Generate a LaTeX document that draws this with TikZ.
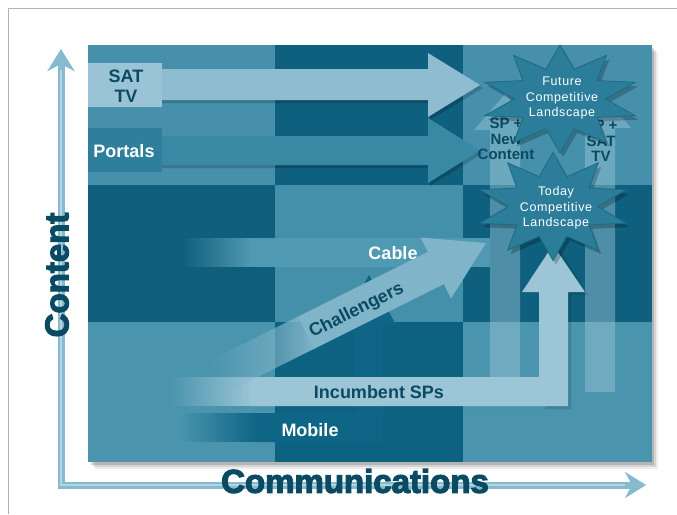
\documentclass[tikz,border=0pt]{standalone}
\usepackage{fontspec}
\setmainfont{Liberation Sans}
\newfontfamily\heavyfont{Liberation Sans}[BoldFeatures={FakeBold=3.5}]
\newfontfamily\starfont{Liberation Sans}[LetterSpace=5]
\usetikzlibrary{fadings,arrows.meta}
\tikzfading[name=fadein, left color=transparent!100, right color=transparent!0]
\definecolor{cA}{HTML}{4690AB}
\definecolor{cB}{HTML}{0F607E}
\definecolor{cC}{HTML}{4A94AE}
\definecolor{cD}{HTML}{0E5E7C}
\definecolor{cE}{HTML}{4490AA}
\definecolor{cF}{HTML}{0E6281}
\definecolor{txtdark}{HTML}{0B4A63}
\definecolor{axiscol}{HTML}{86BACE}
\definecolor{axishi}{HTML}{B4D6E2}
\definecolor{satcol}{HTML}{8EBCD0}
\definecolor{satbox}{HTML}{9AC4D5}
\definecolor{portcol}{HTML}{3989A5}
\definecolor{portbox}{HTML}{2F7F9C}
\definecolor{cablecol}{HTML}{5099B2}
\definecolor{inccol}{HTML}{9CC5D6}
\definecolor{chalcol}{HTML}{80B5C9}
\definecolor{mobcol}{HTML}{0E6585}
\definecolor{spcol}{HTML}{9CC8D8}
\definecolor{starcol}{HTML}{2B7D99}
\definecolor{staredge}{HTML}{1D6A86}
% 10-point star stretched into an ellipse: cx, cy, rx, ry
\newcommand{\mystarshape}[4]{plot[samples at={0,...,19}] ({#1+(1-0.42*mod(\x,2))*#3*cos(18*\x-90)},{#2+(1-0.42*mod(\x,2))*#4*sin(18*\x-90)}) -- cycle}
\tikzset{
  lbl/.style={font=\bfseries\fontsize{18}{19.5}\selectfont, inner sep=0pt, align=center},
  splbl/.style={font=\bfseries\fontsize{15}{15.5}\selectfont, inner sep=0pt, align=center, text=txtdark},
  startext/.style={font=\starfont\fontsize{12.5}{15.5}\selectfont, text=white, inner sep=0pt, align=center},
  axistext/.style={font=\heavyfont\bfseries\fontsize{33}{36}\selectfont, text=txtdark, inner sep=0pt},
  softshadow/.style={fill=black, opacity=0.18},
  spbar/.style={fill=spcol, opacity=0.45},
  starbody/.style={fill=starcol, draw=staredge, line width=0.8pt},
  starshadow/.style={fill=black, opacity=0.22}
}
\begin{document}
\begin{tikzpicture}[x=1pt,y=-1pt]
\fill[white] (0,0) rectangle (677,514);
\useasboundingbox (0,0) rectangle (677,514);
\draw[black!30, line width=1pt] (8,514) -- (8,8) -- (677,8);

% grid shadow
\fill[black, opacity=0.07] (95,52) rectangle (658,469);
\fill[black, opacity=0.10] (93,50) rectangle (656,467);
\fill[black, opacity=0.15] (91,48) rectangle (654,465);
% grid cells
\fill[cA] (88,45) rectangle (275,185);
\fill[cB] (275,45) rectangle (463,185);
\fill[cA] (463,45) rectangle (652,185);
\fill[cD] (88,185) rectangle (275,322);
\fill[cE] (275,185) rectangle (463,322);
\fill[cB] (463,185) rectangle (652,322);
\fill[cC] (88,322) rectangle (275,462);
\fill[cF] (275,322) rectangle (463,462);
\fill[cC] (463,322) rectangle (652,462);

% axes
\coordinate (ytip) at (61,49);
\coordinate (orig) at (61,485);
\coordinate (xtip) at (646,485);
\draw[axiscol, line width=7pt, {Stealth[length=22pt,width=27pt,inset=7pt]}-{Stealth[length=21pt,width=26pt,inset=7pt]}] (ytip) -- (orig) -- (xtip);
\draw[axishi, line width=2.5pt] (61,70) -- (61,485) -- (625,485);
\node[axistext, rotate=90] (content) at (57,275) {Content};
\node[axistext] (comm) at (355,481) {Communications};

% SP vertical arrows (translucent)
\fill[spbar] (490,377) -- (490,130) -- (474,130) -- (505,94) -- (536,130) -- (520,130) -- (520,377) -- cycle;
\fill[spbar] (585,392) -- (585,128) -- (569,128) -- (600,92) -- (631,128) -- (615,128) -- (615,392) -- cycle;

% Cable band
\fill[cablecol, path fading=fadein] (180,238) rectangle (252,267);
\fill[cablecol] (251,238) rectangle (490,267);
\node[lbl, text=white] (cable) at (393,253) {Cable};

% Mobile
\fill[mobcol, path fading=fadein] (180,413) rectangle (257,442);
\fill[mobcol] (256,413) -- (355,413) -- (355,325) -- (342,325) -- (369,275) -- (396,325) -- (383,325) -- (383,442) -- (256,442) -- cycle;
\node[lbl, text=white] (mobile) at (310,430) {Mobile};

% Incumbent SPs
\fill[black, opacity=0.12] (254,409) -- (571,409) -- (571,295) -- (588,295) -- (560,250) -- (545,295) -- (545,409) -- cycle;
\fill[inccol, path fading=fadein] (170,377) rectangle (252,406);
\fill[inccol] (251,377) -- (539,377) -- (539,292) -- (522,292) -- (553,245) -- (585,292) -- (568,292) -- (568,406) -- (251,406) -- cycle;
\node[lbl, text=txtdark] (incumbent) at (379,392) {Incumbent SPs};

% Challengers
\begin{scope}[shift={(486,243)}, rotate=26.5]
  \fill[chalcol, path fading=fadein] (-300,-18) rectangle (-200,18);
  \fill[chalcol] (-201,-18) -- (-56,-18) -- (-56,-34) -- (0,0) -- (-56,34) -- (-56,18) -- (-201,18) -- cycle;
  \node[lbl, text=txtdark, rotate=26.5] (challengers) at (-146,3) {Challengers};
\end{scope}

% SAT TV arrow
\fill[softshadow] (162,72) -- (430,72) -- (430,56) -- (483,88) -- (430,120) -- (430,103) -- (162,103) -- cycle;
\fill[satcol] (160,69) -- (428,69) -- (428,53) -- (480,85) -- (428,117) -- (428,100) -- (160,100) -- cycle;
\fill[satbox] (88,63) rectangle (162,107);
\node[lbl, text=txtdark] (sattv) at (126,86) {SAT\\TV};

% Portals arrow
\fill[softshadow] (162,139) -- (430,139) -- (430,121) -- (483,153) -- (430,186) -- (430,168) -- (162,168) -- cycle;
\fill[portcol] (160,136) -- (428,136) -- (428,118) -- (480,150.5) -- (428,183) -- (428,165) -- (160,165) -- cycle;
\fill[portbox] (88,128) rectangle (162,172);
\node[lbl, text=white] (portals) at (124,151) {Portals};

% SP texts
\node[splbl] (spnew) at (506,139) {SP +\\New\\Content};
\node[splbl] (spsat) at (601,141) {SP +\\SAT\\TV};

% Today star
\fill[starshadow, shift={(3,4)}] \mystarshape{553}{206.5}{77}{54};
\filldraw[starbody] \mystarshape{553}{206.5}{77}{54};
\node[startext] (today) at (556,208) {Today\\Competitive\\Landscape};

% Future star
\fill[starshadow, shift={(3,4)}] \mystarshape{560}{99}{79}{54};
\filldraw[starbody] \mystarshape{560}{99}{79}{54};
\node[startext] (future) at (562,98) {Future\\Competitive\\Landscape};
\end{tikzpicture}
\end{document}
